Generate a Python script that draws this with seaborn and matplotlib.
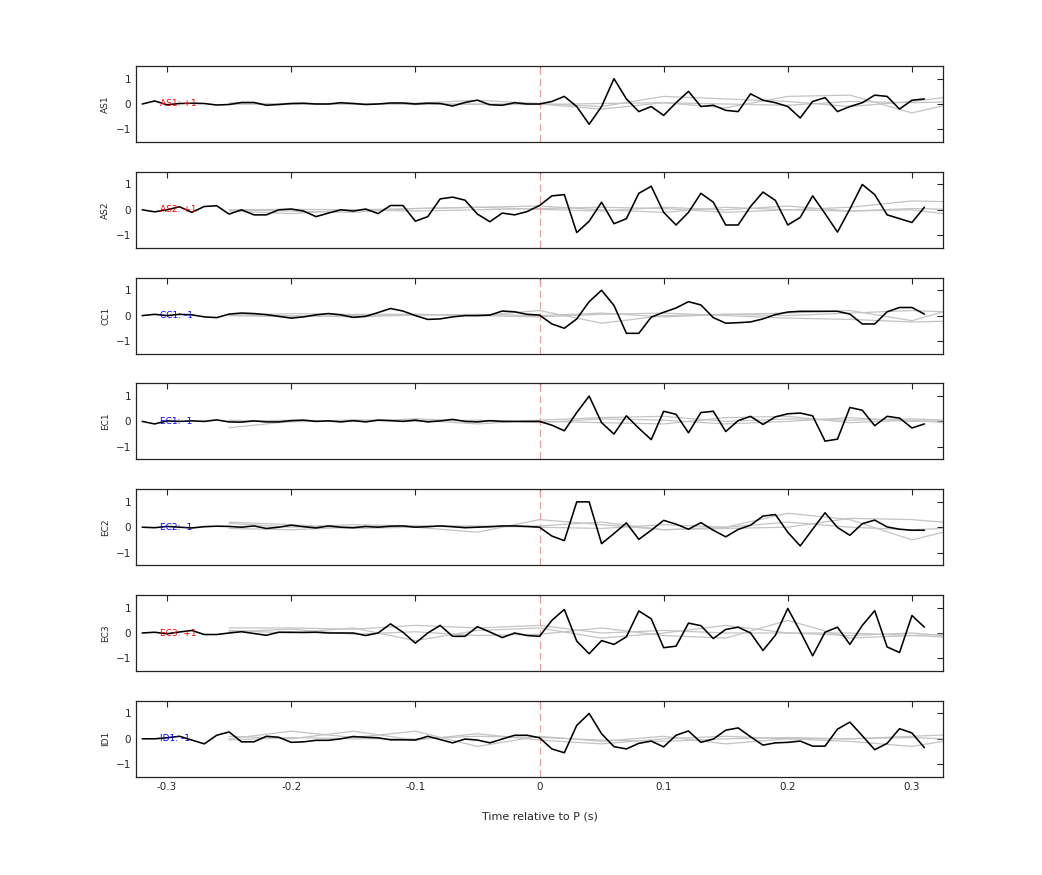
import numpy as np
import pandas as pd
import matplotlib
matplotlib.use("Agg")
import matplotlib.pyplot as plt
import seaborn as sns

sns.set_theme(style="white")
plt.rcParams['font.family'] = ['DejaVu Sans']

stations = ["AS1", "AS2", "CC1", "EC1", "EC2", "EC3", "ID1"]
polarity = ["+1", "+1", "-1", "-1", "-1", "+1", "-1"]
times = [round(-0.32 + 0.01 * i, 2) for i in range(64)]

AS1 = [0, 0.12, -0.03, 0.02, 0.03, 0.02, -0.04, -0.02, 0.06, 0.06, -0.05, -0.02, 0.02, 0.03, 0.0, 0.0,
       0.05, 0.02, -0.02, 0.0, 0.04, 0.04, 0.0, 0.03, 0.02, -0.08, 0.06, 0.15, -0.03, -0.05, 0.05, 0.0,
       0.0, 0.1, 0.3, -0.1, -0.8, -0.1, 1.0, 0.2, -0.3, -0.1, -0.45, 0.05, 0.5, -0.1, -0.05, -0.25,
       -0.3, 0.4, 0.15, 0.05, -0.1, -0.55, 0.1, 0.25, -0.3, -0.1, 0.05, 0.35, 0.3, -0.2, 0.15, 0.2]
AS2 = [0.0, -0.08, 0.0, 0.12, -0.1, 0.13, 0.16, -0.17, 0.0, -0.2, -0.2, 0.0, 0.03, -0.05, -0.27, -0.13,
       0.0, -0.05, 0.03, -0.15, 0.17, 0.17, -0.45, -0.27, 0.43, 0.5, 0.38, -0.17, -0.47, -0.13, -0.2, -0.07,
       0.17, 0.55, 0.6, -0.9, -0.45, 0.3, -0.55, -0.35, 0.65, 0.93, -0.1, -0.6, -0.1, 0.65, 0.3, -0.6,
       -0.6, 0.13, 0.7, 0.37, -0.6, -0.3, 0.55, -0.15, -0.88, 0.03, 1.0, 0.6, -0.2, -0.35, -0.5, 0.1]
CC1 = [0, 0.05, 0.0, 0.05, 0.03, -0.05, -0.08, 0.06, 0.1, 0.08, 0.04, -0.03, -0.1, -0.05, 0.03, 0.08,
       0.03, -0.07, -0.03, 0.12, 0.28, 0.18, 0.0, -0.15, -0.13, -0.05, 0.0, 0.0, 0.02, 0.18, 0.15, 0.05,
       0.02, -0.33, -0.5, -0.13, 0.55, 1.0, 0.4, -0.7, -0.7, -0.06, 0.13, 0.3, 0.55, 0.42, -0.08, -0.3,
       -0.28, -0.25, -0.13, 0.04, 0.14, 0.17, 0.17, 0.17, 0.17, 0.06, -0.33, -0.33, 0.15, 0.32, 0.32, 0.06]
EC1 = [0, -0.1, 0.02, 0.0, 0.02, 0.0, 0.06, -0.02, -0.03, 0.02, -0.02, -0.02, 0.03, 0.05, 0.0, 0.02,
       -0.02, 0.03, -0.02, 0.05, 0.03, 0.0, 0.05, -0.02, 0.02, 0.08, 0.0, -0.02, 0.03, 0.0, 0.0, 0.0,
       0.0, -0.15, -0.37, 0.35, 1.0, -0.05, -0.5, 0.22, -0.27, -0.72, 0.4, 0.28, -0.45, 0.35, 0.4, -0.4,
       0.03, 0.2, -0.12, 0.18, 0.3, 0.33, 0.22, -0.78, -0.7, 0.55, 0.44, -0.17, 0.2, 0.13, -0.26, -0.1]
EC2 = [0, -0.02, 0.03, 0.0, -0.03, 0.02, 0.04, 0.03, 0.0, 0.05, -0.05, 0.0, 0.08, 0.02, -0.03, 0.05,
       0.0, -0.02, 0.03, 0.0, 0.04, 0.05, 0.0, 0.02, 0.05, 0.02, -0.02, 0.0, 0.02, 0.05, 0.05, 0.03,
       0.0, -0.35, -0.53, 1.0, 1.0, -0.65, -0.25, 0.17, -0.48, -0.12, 0.27, 0.12, -0.08, 0.18, -0.12, -0.38,
       -0.09, 0.08, 0.44, 0.5, -0.2, -0.74, -0.08, 0.57, -0.01, -0.32, 0.14, 0.28, 0.01, -0.08, -0.12, -0.12]
EC3 = [0, 0.03, -0.03, 0.04, 0.1, -0.06, -0.06, 0.0, 0.05, -0.02, -0.09, 0.03, 0.03, 0.02, 0.03, 0.0,
       0.0, 0.0, -0.1, 0.0, 0.36, 0.03, -0.4, 0.0, 0.3, -0.13, -0.13, 0.25, 0.04, -0.18, 0.0, -0.1,
       -0.13, 0.5, 0.93, -0.32, -0.82, -0.3, -0.45, -0.15, 0.87, 0.56, -0.58, -0.52, 0.39, 0.29, -0.22, 0.14,
       0.23, 0.0, -0.69, -0.09, 0.97, 0.06, -0.9, 0.03, 0.23, -0.45, 0.3, 0.88, -0.55, -0.77, 0.69, 0.23]
ID1 = [0, 0.0, 0.04, 0.1, -0.05, -0.2, 0.14, 0.27, -0.12, -0.12, 0.1, 0.06, -0.14, -0.12, -0.06, -0.06,
       0.0, 0.09, 0.06, 0.04, -0.04, -0.04, -0.05, 0.1, -0.03, -0.16, -0.01, -0.05, -0.16, -0.01, 0.14, 0.14,
       0.04, -0.4, -0.55, 0.53, 1.0, 0.2, -0.31, -0.4, -0.18, -0.09, -0.32, 0.14, 0.31, -0.14, -0.01, 0.34,
       0.43, 0.08, -0.25, -0.16, -0.14, -0.09, -0.29, -0.29, 0.38, 0.66, 0.12, -0.43, -0.18, 0.4, 0.23, -0.35]
traces = [AS1, AS2, CC1, EC1, EC2, EC3, ID1]

# grey comparison traces, sampled every 0.05 s from -0.25 to 0.35
gtimes = [-0.25, -0.2, -0.15, -0.1, -0.05, 0.0, 0.05, 0.1, 0.15, 0.2, 0.25, 0.3, 0.35]
grey = [
    [[0, 0.02, 0.0, 0.03, 0.15, 0.02, -0.1, 0.3, 0.2, 0.1, -0.1, 0.1, 0.4],
     [0, -0.02, 0.02, -0.02, 0.0, 0.0, -0.2, 0.05, -0.15, 0.3, 0.35, -0.35, 0.2],
     [0.05, 0.0, 0.0, 0.02, -0.02, -0.02, 0.02, 0.05, 0.0, -0.05, 0.1, 0.05, 0.1]],
    [[0, -0.05, -0.1, 0.05, 0.1, 0.15, 0.0, -0.1, 0.1, 0.0, 0.1, 0.35, 0.3],
     [0, 0.02, 0.0, -0.05, 0.0, 0.05, 0.1, 0.05, -0.1, 0.0, -0.05, 0.0, -0.3],
     [-0.05, -0.15, 0.0, 0.05, 0.1, 0.02, -0.05, 0.1, 0.0, 0.15, -0.05, 0.05, 0.0]],
    [[0, 0.08, 0.05, 0.05, 0.0, 0.2, -0.3, 0.0, 0.05, 0.1, 0.2, -0.2, 0.5],
     [0, -0.05, 0.0, 0.05, 0.0, -0.05, 0.05, 0.1, 0.0, -0.1, -0.15, -0.25, -0.2],
     [0.02, 0.0, -0.05, 0.02, 0.05, 0.0, 0.1, -0.05, 0.05, 0.0, 0.1, 0.2, 0.1]],
    [[-0.25, 0.0, 0.05, 0.05, -0.1, 0.05, 0.15, 0.2, 0.0, 0.1, 0.05, 0.1, 0.0],
     [0, 0.05, 0.0, 0.1, 0.0, 0.0, -0.05, -0.1, 0.15, 0.2, -0.05, 0.05, -0.15],
     [0.05, -0.02, 0.05, 0.0, 0.05, -0.05, 0.1, 0.05, -0.1, 0.0, 0.15, 0.0, 0.05]],
    [[0.2, 0.1, -0.05, 0.0, -0.2, 0.3, 0.1, -0.1, 0.0, 0.55, 0.3, -0.5, 0.1],
     [0.15, 0.0, 0.1, 0.05, 0.0, 0.05, 0.2, -0.1, -0.05, 0.0, 0.35, 0.3, 0.1],
     [-0.05, -0.1, 0.0, 0.05, 0.05, 0.0, -0.05, 0.1, 0.0, 0.2, 0.0, -0.1, 0.0]],
    [[0.2, 0.2, 0.15, 0.3, 0.2, 0.3, 0.0, 0.1, 0.0, 0.0, 0.0, -0.1, 0.0],
     [0.1, 0.0, 0.2, -0.3, 0.1, 0.2, -0.2, 0.0, 0.3, 0.0, -0.1, 0.0, -0.2],
     [0.05, 0.15, -0.05, 0.05, -0.1, -0.05, 0.2, -0.1, -0.2, 0.5, -0.2, -0.1, -0.2]],
    [[0.0, 0.3, 0.05, 0.3, -0.3, 0.1, -0.1, 0.1, -0.2, 0.0, 0.0, 0.1, 0.2],
     [0.1, 0.0, 0.3, -0.05, 0.2, -0.05, -0.2, 0.0, 0.1, 0.0, -0.1, -0.3, 0.1],
     [-0.05, 0.05, 0.0, 0.0, 0.1, 0.05, -0.05, -0.1, 0.0, 0.05, 0.0, 0.05, -0.05]],
]

fig = plt.figure(figsize=(10.42, 8.75), dpi=100)
left, width = 136 / 1042, (943 - 136) / 1042
h = 76 / 875
for i, st in enumerate(stations):
    top = 66 + i * 105.8
    ax = fig.add_axes([left, 1 - (top + 76) / 875, width, h])
    for g in grey[i]:
        sns.lineplot(x=gtimes, y=g, ax=ax, color='#c4c4c4', lw=0.9)
    ax.axvline(0, color='#e8a0a0', lw=0.9, dashes=(6, 3))
    df = pd.DataFrame({"t": times, "v": traces[i]})
    sns.lineplot(data=df, x="t", y="v", ax=ax, color='black', lw=1.15)
    col = 'red' if polarity[i] == "+1" else 'blue'
    ax.text(-0.306, 0, f"{st}: {polarity[i]}", color=col, fontsize=6.5, va='center', ha='left')
    ax.set_xlim(-0.325, 0.325)
    ax.set_ylim(-1.5, 1.5)
    ax.set_yticks([-1, 0, 1])
    ax.set_xticks([-0.3, -0.2, -0.1, 0, 0.1, 0.2, 0.3])
    ax.tick_params(direction='in', top=True, right=True, length=4, labelsize=7.5, width=0.8)
    ax.set_ylabel(st, fontsize=6.5)
    ax.set_xlabel("")
    for s in ax.spines.values():
        s.set_color('#222222'); s.set_linewidth(0.9)
    if i < len(stations) - 1:
        ax.set_xticklabels([])
    else:
        ax.set_xticklabels(["-0.3", "-0.2", "-0.1", "0", "0.1", "0.2", "0.3"])
        ax.set_xlabel("Time relative to P (s)", fontsize=8, labelpad=14)
fig.savefig("out.png", dpi=100)
